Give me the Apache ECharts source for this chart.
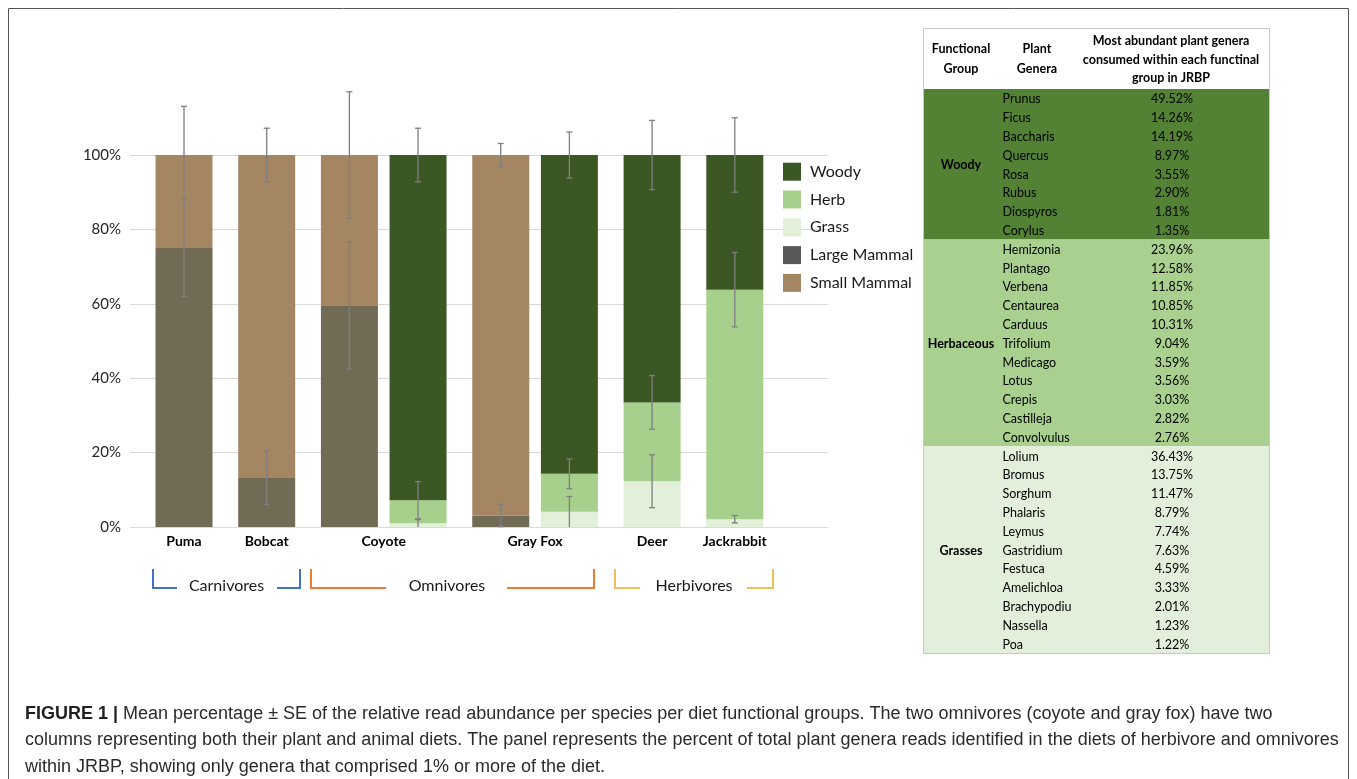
<!DOCTYPE html>
<html><head><meta charset="utf-8">
<script src="https://cdn.jsdelivr.net/npm/echarts@6/dist/echarts.min.js"></script>
<style>html,body{margin:0;padding:0;background:#fff}#c{width:1357px;height:779px}</style>
</head><body><div id="c"></div>
<script>
// ---- chart data ----
const columns = ['Puma','Bobcat','Coyote','Coyote','Gray Fox','Gray Fox','Deer','Jackrabbit'];
const largeMammal = [75.0, 13.2, 59.6, 0, 3.1, 0, 0, 0];
const smallMammal = [25.0, 86.8, 40.4, 0, 96.9, 0, 0, 0];
const grass       = [0, 0, 0, 1.0, 0, 4.1, 12.3, 2.1];
const herb        = [0, 0, 0, 6.2, 0, 10.2, 21.2, 61.7];
const woody       = [0, 0, 0, 92.8, 0, 85.7, 66.5, 36.2];
const largeMammalSE = [13.1, 7.2, 17.1, null, 3.0, null, null, null];
const smallMammalSE = [13.1, 7.2, 17.0, null, 3.1, null, null, null];
const grassSE       = [null, null, null, 1.0, null, 4.1, 7.1, 1.0];
const herbSE        = [null, null, null, 5.0, null, 4.0, 7.2, 10.0];
const woodySE       = [null, null, null, 7.2, null, 6.2, 9.3, 10.0];
const legendOrder = ['Woody','Herb','Grass','Large Mammal','Small Mammal'];
const dietGroups = ['Carnivores','Omnivores','Herbivores'];

// ---- table data ----
const woodyGenera = ['Prunus','Ficus','Baccharis','Quercus','Rosa','Rubus','Diospyros','Corylus'];
const woodyPct    = [49.52, 14.26, 14.19, 8.97, 3.55, 2.90, 1.81, 1.35];
const herbGenera  = ['Hemizonia','Plantago','Verbena','Centaurea','Carduus','Trifolium','Medicago','Lotus','Crepis','Castilleja','Convolvulus'];
const herbPct     = [23.96, 12.58, 11.85, 10.85, 10.31, 9.04, 3.59, 3.56, 3.03, 2.82, 2.76];
const grassGenera = ['Lolium','Bromus','Sorghum','Phalaris','Leymus','Gastridium','Festuca','Amelichloa','Brachypodium','Nassella','Poa'];
const grassPct    = [36.43, 13.75, 11.47, 8.79, 7.74, 7.63, 4.59, 3.33, 2.01, 1.23, 1.22];
const tableGroups = ['Woody','Herbaceous','Grasses'];

const captionLines = [
  'Mean percentage \u00b1 SE of the relative read abundance per species per diet functional groups. The two omnivores (coyote and gray fox) have two',
  'columns representing both their plant and animal diets. The panel represents the percent of total plant genera reads identified in the diets of herbivore and omnivores',
  'within JRBP, showing only genera that comprised 1% or more of the diet.'
];

// ---- layout: columns of the same species sit closer together ----
const pos = [];
columns.forEach((c, i) => { pos.push(i === 0 ? 0 : pos[i-1] + (c === columns[i-1] ? 0.83 : 1)); });
const species = [...new Set(columns)];
const speciesCenter = species.map(s => {
  const p = pos.filter((_, i) => columns[i] === s);
  return p.reduce((a, b) => a + b, 0) / p.length;
});

const FONT = 'Lato, "Open Sans", sans-serif';
const BAR_W = 57;
const seriesDefs = [
  {name: 'Large Mammal', data: largeMammal, se: largeMammalSE, color: '#716b56'},
  {name: 'Small Mammal', data: smallMammal, se: smallMammalSE, color: '#a58663'},
  {name: 'Grass', data: grass, se: grassSE, color: '#e2efd9'},
  {name: 'Herb', data: herb, se: herbSE, color: '#a8d08d'},
  {name: 'Woody', data: woody, se: woodySE, color: '#3b5824'}
];

// stacked segments [x, base, top] and error bars [x, top, se]
const errData = [];
const segData = seriesDefs.map(() => []);
columns.forEach((c, i) => {
  let cum = 0;
  seriesDefs.forEach((s, k) => {
    const base = cum;
    cum += s.data[i];
    if (s.data[i] > 0) segData[k].push([pos[i], base, cum]);
    if (s.se[i] != null) errData.push([pos[i], cum, s.se[i]]);
  });
});

const series = seriesDefs.map((s, k) => ({
  name: s.name, type: 'custom', z: 2,
  itemStyle: {color: s.color},
  encode: {x: 0, y: [1, 2]},
  data: segData[k],
  renderItem: function (params, api) {
    const x = api.value(0);
    const a = api.coord([x, api.value(1)]);
    const b = api.coord([x, api.value(2)]);
    return {type: 'rect', shape: {x: a[0] - BAR_W / 2, y: b[1], width: BAR_W, height: a[1] - b[1]}, style: api.style()};
  }
}));
series.push({
  name: 'SE', type: 'custom', z: 10, silent: true,
  encode: {x: 0, y: 1},
  data: errData,
  renderItem: function (params, api) {
    const x = api.value(0), c = api.value(1), e = api.value(2);
    const lo = Math.max(0, c - e);
    const top = api.coord([x, c + e]);
    const bot = api.coord([x, lo]);
    const hw = 3;
    const st = {stroke: '#7f7f7f', lineWidth: 1.3};
    const ch = [
      {type: 'line', shape: {x1: top[0], y1: top[1], x2: bot[0], y2: bot[1]}, style: st},
      {type: 'line', shape: {x1: top[0]-hw, y1: top[1], x2: top[0]+hw, y2: top[1]}, style: st}
    ];
    if (c - e > 0) ch.push({type: 'line', shape: {x1: bot[0]-hw, y1: bot[1], x2: bot[0]+hw, y2: bot[1]}, style: st});
    return {type: 'group', children: ch};
  }
});

// ---- graphics: brackets, table, caption, frame ----
const graphic = [];
graphic.push({type: 'rect', shape: {x: 8.5, y: 8.5, width: 1340, height: 800}, style: {fill: 'none', stroke: '#555', lineWidth: 1}, silent: true});

const bracketColors = ['#4472c4', '#ed7d31', '#f0c05a'];
const brackets = [
  {l: [153, 177], r: [277, 300], tx: 226.5},
  {l: [311, 386], r: [507, 594], tx: 447},
  {l: [615, 640], r: [747, 773], tx: 694}
];
brackets.forEach((b, k) => {
  const st = {stroke: bracketColors[k], lineWidth: 2, fill: 'none'};
  graphic.push({type: 'polyline', shape: {points: [[b.l[0], 569], [b.l[0], 588], [b.l[1], 588]]}, style: st, silent: true});
  graphic.push({type: 'polyline', shape: {points: [[b.r[0], 588], [b.r[1], 588], [b.r[1], 569]]}, style: st, silent: true});
  graphic.push({type: 'text', style: {text: dietGroups[k], x: b.tx, y: 586, align: 'center', verticalAlign: 'middle', fontSize: 16, fontFamily: FONT, fill: '#1a1a1a'}, silent: true});
});

// table
const TL = 923, TR = 1269, TT = 28, ROW0 = 89, RH = 18.8;
const groupColors = ['#548235', '#a9d08e', '#e2efda'];
const groupGenera = [woodyGenera, herbGenera, grassGenera];
const groupPct = [woodyPct, herbPct, grassPct];
let rowIdx = 0;
groupGenera.forEach((gen, g) => {
  const y0 = ROW0 + rowIdx * RH;
  graphic.push({type: 'rect', shape: {x: TL, y: y0, width: TR - TL, height: gen.length * RH}, style: {fill: groupColors[g]}, silent: true});
  graphic.push({type: 'text', style: {text: tableGroups[g], x: 961, y: y0 + gen.length * RH / 2 + 1, align: 'center', verticalAlign: 'middle', fontSize: 12.5, fontWeight: 'bold', fontFamily: FONT, fill: '#000'}, silent: true});
  gen.forEach((name, j) => {
    const yc = y0 + (j + 0.5) * RH + 1;
    graphic.push({type: 'text', style: {text: name, x: 1002.5, y: yc, align: 'left', verticalAlign: 'middle', fontSize: 12.5, fontFamily: FONT, fill: '#000', width: 76, overflow: 'truncate', ellipsis: ''}, silent: true});
    graphic.push({type: 'text', style: {text: groupPct[g][j].toFixed(2) + '%', x: 1172, y: yc, align: 'center', verticalAlign: 'middle', fontSize: 12.5, fontFamily: FONT, fill: '#000'}, silent: true});
  });
  rowIdx += gen.length;
});
const TB = ROW0 + rowIdx * RH;
graphic.push({type: 'rect', shape: {x: TL + 0.5, y: TT + 0.5, width: TR - TL, height: TB - TT}, style: {fill: 'none', stroke: '#c9c9c9', lineWidth: 1}, silent: true});
const hdr = (t, x, y) => graphic.push({type: 'text', style: {text: t, x: x, y: y, align: 'center', verticalAlign: 'middle', fontSize: 12.5, fontWeight: 'bold', fontFamily: FONT, fill: '#000'}, silent: true});
hdr('Functional', 961, 49); hdr('Group', 961, 69);
hdr('Plant', 1037, 49); hdr('Genera', 1037, 69);
hdr('Most abundant plant genera', 1171, 41);
hdr('consumed within each functinal', 1171, 60);
hdr('group in JRBP', 1171, 78);

// caption
const CAPF = '"Liberation Sans", Arial, sans-serif';
captionLines.forEach((ln, k) => {
  graphic.push({type: 'text', style: {
    text: (k === 0 ? '{b|FIGURE 1 |} ' : '') + ln,
    x: 25, y: 714 + k * 26.5, align: 'left', verticalAlign: 'middle',
    fontSize: 18, fontFamily: CAPF, fill: '#2b2b2b',
    rich: {b: {fontWeight: 'bold', fontSize: 18, fontFamily: CAPF, fill: '#1f1f1f'}}
  }, silent: true});
});

const chart = echarts.init(document.getElementById('c'), null, {renderer: 'canvas'});
chart.setOption({
  animation: false,
  backgroundColor: '#fff',
  grid: {left: 130, right: 529, top: 155, bottom: 252},
  xAxis: {
    type: 'value', min: -0.653, max: 7.787,
    axisLine: {show: false}, axisTick: {show: false}, splitLine: {show: false},
    axisLabel: {
      customValues: speciesCenter,
      formatter: function (v) {
        let best = 0, d = 1e9;
        speciesCenter.forEach((c, i) => { if (Math.abs(c - v) < d) { d = Math.abs(c - v); best = i; } });
        return species[best];
      },
      fontSize: 14, fontWeight: 'bold', fontFamily: FONT, color: '#000', margin: 7
    }
  },
  yAxis: {
    type: 'value', min: 0, max: 100, interval: 20,
    axisLine: {show: false}, axisTick: {show: false},
    splitLine: {lineStyle: {color: '#d9d9d9', width: 1}},
    axisLabel: {formatter: '{value}%', fontSize: 15, fontFamily: FONT, color: '#262626', margin: 9}
  },
  legend: {
    data: legendOrder.map(n => n === 'Large Mammal' ? {name: n, itemStyle: {color: '#595959'}} : {name: n}),
    orient: 'vertical', left: 783, top: 162.7, padding: 0,
    itemWidth: 18, itemHeight: 18, itemGap: 9.8, icon: 'rect',
    selectedMode: false,
    textStyle: {fontSize: 16, fontFamily: FONT, color: '#1a1a1a', lineHeight: 18, padding: [0, 0, 0, 4]}
  },
  series: series,
  graphic: graphic
});
</script></body></html>
